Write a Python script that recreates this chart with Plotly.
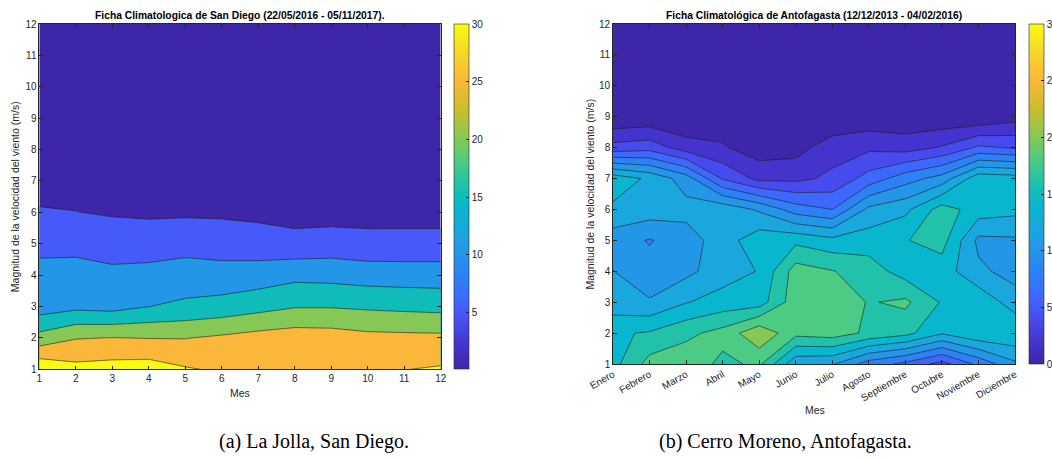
import plotly.graph_objects as go

W, H = 1052, 460

# ---------------------------------------------------------------- data
meses = list(range(1, 13))
velocidades = list(range(1, 13))
nombres_meses = ["Enero", "Febrero", "Marzo", "Abril", "Mayo", "Junio", "Julio",
                 "Agosto", "Septiembre", "Octubre", "Noviembre", "Diciembre"]

# Frecuencia (%) por magnitud de viento (filas: 1..12 m/s) y mes (columnas: 1..12)
san_diego = [
    [34.25, 31.58, 32.09, 32.42, 30.45, 29.33, 28.5, 28.0, 28.2, 29.0, 29.9, 30.5],
    [21.75, 24.73, 25.12, 24.85, 24.83, 25.8, 26.9, 27.62, 27.38, 26.45, 26.27, 26.15],
    [12.5, 13.73, 13.2, 14.95, 16.05, 16.87, 18.28, 19.68, 19.69, 19.2, 18.81, 18.46],
    [11.2, 11.0, 10.5, 10.8, 12.01, 11.82, 12.32, 13.6, 13.35, 12.74, 12.56, 12.49],
    [8.98, 9.25, 9.03, 8.8, 8.42, 7.86, 7.28, 6.54, 7.15, 6.51, 6.61, 6.7],
    [5.6, 5.12, 4.34, 3.93, 4.3, 4.24, 3.88, 3.33, 3.17, 3.36, 3.26, 3.16],
    [2.3, 2.7, 2.0, 1.8, 1.9, 1.9, 1.7, 1.5, 1.5, 1.5, 1.5, 1.4],
    [0.9, 1.0, 0.8, 0.7, 0.8, 0.8, 0.7, 0.6, 0.6, 0.6, 0.6, 0.6],
    [0.35, 0.4, 0.35, 0.3, 0.3, 0.3, 0.3, 0.25, 0.25, 0.25, 0.25, 0.25],
    [0.15, 0.2, 0.15, 0.15, 0.15, 0.15, 0.15, 0.1, 0.1, 0.1, 0.1, 0.1],
    [0.1, 0.1, 0.1, 0.1, 0.1, 0.1, 0.1, 0.1, 0.1, 0.1, 0.1, 0.1],
    [0.05, 0.05, 0.05, 0.05, 0.05, 0.05, 0.05, 0.05, 0.05, 0.05, 0.05, 0.05],
]

antofagasta = [
    [15.3, 18.76, 19.3, 17.5, 18.4, 12.5, 12.2, 9.0, 7.5, 5.2, 8.5, 11.6],
    [15.7, 16.2, 17.5, 18.7, 21.53, 18.6, 19.0, 17.6, 16.66, 14.22, 15.8, 15.78],
    [12.8, 12.2, 13.9, 14.8, 15.0, 19.2, 19.5, 17.85, 18.4, 15.82, 15.5, 13.0],
    [12.05, 10.68, 11.46, 13.1, 14.1, 18.9, 18.1, 17.0, 15.07, 15.0, 12.44, 11.2],
    [10.95, 9.86, 11.0, 13.08, 15.2, 15.5, 14.6, 15.0, 15.9, 16.8, 11.5, 11.7],
    [13.58, 13.1, 12.72, 13.4, 11.7, 9.0, 8.0, 12.5, 13.5, 16.92, 15.08, 14.6],
    [15.27, 13.6, 11.0, 5.8, 3.44, 3.5, 4.43, 6.8, 9.14, 10.8, 15.35, 15.0],
    [4.71, 5.18, 3.0, 2.2, 0.96, 1.2, 3.13, 3.6, 3.14, 4.2, 6.35, 5.8],
    [0.27, 0.46, 0.05, 1.0, 0.3, 0.4, 0.16, 0.64, 0.55, 0.5, 0.3, 1.2],
    [0.1, 0.15, 0.1, 0.3, 0.1, 0.1, 0.1, 0.15, 0.15, 0.15, 0.1, 0.2],
    [0.05, 0.05, 0.05, 0.05, 0.05, 0.05, 0.05, 0.05, 0.05, 0.05, 0.05, 0.05],
    [0.02, 0.02, 0.02, 0.02, 0.02, 0.02, 0.02, 0.02, 0.02, 0.02, 0.02, 0.02],
]

ticks_cb_sd = [5, 10, 15, 20, 25, 30]
ticks_cb_af = [0, 5, 10, 15, 20, 25, 30]

# ---------------------------------------------------------------- colours
PARULA = [
    (0.000, (62, 38, 168)),
    (0.067, (68, 52, 205)),
    (0.133, (71, 75, 238)),
    (0.167, (70, 90, 250)),
    (0.200, (62, 104, 253)),
    (0.267, (45, 128, 246)),
    (0.333, (36, 150, 232)),
    (0.400, (26, 167, 221)),
    (0.467, (8, 182, 205)),
    (0.500, (16, 188, 186)),
    (0.533, (34, 193, 170)),
    (0.600, (75, 203, 132)),
    (0.667, (134, 200, 85)),
    (0.750, (200, 190, 45)),
    (0.833, (251, 183, 58)),
    (0.917, (245, 215, 40)),
    (1.000, (249, 251, 20)),
]


def parula(t):
    t = min(max(t, 0.0), 1.0)
    for (p0, c0), (p1, c1) in zip(PARULA[:-1], PARULA[1:]):
        if t <= p1:
            f = 0.0 if p1 == p0 else (t - p0) / (p1 - p0)
            return "rgb(%d,%d,%d)" % tuple(round(a + (b - a) * f) for a, b in zip(c0, c1))
    return "rgb(%d,%d,%d)" % PARULA[-1][1]


PARULA_SCALE = [[p, "rgb(%d,%d,%d)" % c] for p, c in PARULA]
CMAX = 30.0


def band_scale(start, size, end):
    # one colour per filled band, taken at the band's lower level on a 0..CMAX scale
    n = int(round((end - start) / size)) + 1
    return [[k / n, parula((start - size + k * size) / CMAX)] for k in range(n + 1)]


def px_x(x):
    return x / W


def px_y(y):
    return 1 - y / H


INK = "#262626"
FONT = "Liberation Sans"

# plot boxes in pixels: (left, right, top, bottom)
BOX_SD = (39.3, 440.7, 24.0, 369.3)
BOX_AF = (613.0, 1015.0, 24.0, 364.0)

fig = go.Figure()

fig.add_trace(go.Contour(
    x=meses, y=velocidades, z=san_diego,
    contours=dict(start=5, end=30, size=5, coloring="fill", showlines=True),
    colorscale=band_scale(5, 5, 30), showscale=False,
    line=dict(color="#1c1c1c", width=0.6, smoothing=0),
    xaxis="x", yaxis="y", hoverinfo="skip",
))

fig.add_trace(go.Contour(
    x=meses, y=velocidades, z=antofagasta,
    contours=dict(start=2, end=20, size=2, coloring="fill", showlines=True),
    colorscale=band_scale(2, 2, 20), showscale=False,
    line=dict(color="#1c1c1c", width=0.6, smoothing=0),
    xaxis="x2", yaxis="y2", hoverinfo="skip",
))


def colorbar_trace(xa, ya, box, cmin, tickvals):
    left, right, top, bottom = box
    return go.Scatter(
        x=[None], y=[None], mode="markers", xaxis=xa, yaxis=ya, hoverinfo="skip",
        marker=dict(
            color=[cmin], cmin=cmin, cmax=CMAX, colorscale=PARULA_SCALE, showscale=True,
            colorbar=dict(
                x=px_x(right + 13.5), xanchor="left", xpad=0,
                y=px_y(bottom), yanchor="bottom", ypad=0,
                len=(bottom - top) / H, lenmode="fraction",
                thickness=15, thicknessmode="pixels",
                outlinewidth=0.6, outlinecolor=INK,
                tickvals=tickvals, ticks="inside", ticklen=3, tickcolor=INK,
                tickfont=dict(family=FONT, size=10, color=INK),
            ),
        ),
        showlegend=False,
    )


fig.add_trace(colorbar_trace("x", "y", BOX_SD, 0.05, ticks_cb_sd))
fig.add_trace(colorbar_trace("x2", "y2", BOX_AF, 0.0, ticks_cb_af))

axis_common = dict(
    range=[1, 12], tickvals=list(range(1, 13)), ticks="inside", ticklen=4,
    tickcolor=INK, showline=True, linecolor=INK, linewidth=0.6, mirror="ticks",
    showgrid=False, zeroline=False, tickfont=dict(family=FONT, size=10, color=INK),
)

fig.update_layout(
    width=W, height=H, margin=dict(l=0, r=0, t=0, b=0, autoexpand=False),
    paper_bgcolor="white", plot_bgcolor="white", showlegend=False,
    xaxis=dict(axis_common, domain=[px_x(BOX_SD[0]), px_x(BOX_SD[1])], anchor="y"),
    yaxis=dict(axis_common, domain=[px_y(BOX_SD[3]), px_y(BOX_SD[2])], anchor="x"),
    xaxis2=dict(axis_common, domain=[px_x(BOX_AF[0]), px_x(BOX_AF[1])], anchor="y2",
                ticktext=nombres_meses, tickangle=-30),
    yaxis2=dict(axis_common, domain=[px_y(BOX_AF[3]), px_y(BOX_AF[2])], anchor="x2"),
)


def label(text, x, y, size=10.5, angle=0, bold=False, family=FONT, color=INK):
    fig.add_annotation(
        text="<b>%s</b>" % text if bold else text,
        x=px_x(x), y=px_y(y), xref="paper", yref="paper",
        xanchor="center", yanchor="middle", showarrow=False, textangle=angle,
        font=dict(family=family, size=size, color=color),
    )


label("Ficha Climatologica de San Diego (22/05/2016 - 05/11/2017).", 240, 15.7,
      size=10.3, bold=True, color="black")
label("Ficha Climatológica de Antofagasta (12/12/2013 - 04/02/2016)", 814, 15.7,
      size=10.3, bold=True, color="black")
label("Magnitud de la velocidad del viento (m/s)", 15.7, 196.5, angle=-90)
label("Magnitud de la velocidad del viento (m/s)", 589.6, 194, angle=-90)
label("Mes", 240, 393)
label("Mes", 815, 410)
label("(a) La Jolla, San Diego.", 314, 441, size=20, family="Liberation Serif", color="black")
label("(b) Cerro Moreno, Antofagasta.", 785, 441, size=20, family="Liberation Serif", color="black")

fig.write_html("out.html")
